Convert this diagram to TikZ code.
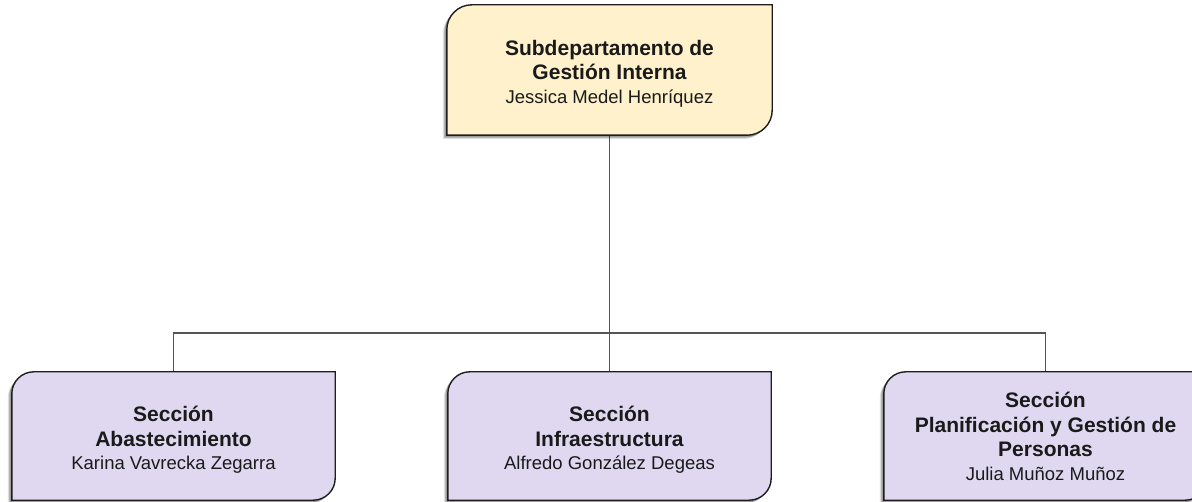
\documentclass[tikz,border=0pt]{standalone}
\usepackage{fontspec}
\setmainfont{Liberation Sans}
\usetikzlibrary{backgrounds}
\definecolor{bossfill}{HTML}{FEF1CC}
\definecolor{secfill}{HTML}{DFD8F0}
\definecolor{edgecol}{HTML}{1E1E1E}
\definecolor{wirecol}{HTML}{555555}
\definecolor{inkcol}{HTML}{1A1A1A}
\newcommand\orgpath[4]{([xshift=#3,yshift=#4]#1.south west) -- ([xshift=#3,yshift=#4-#2]#1.north west) arc[start angle=180,end angle=90,radius=#2] -- ([xshift=#3,yshift=#4]#1.north east) -- ([xshift=#3,yshift=#4+#2]#1.south east) arc[start angle=0,end angle=-90,radius=#2] -- cycle}
\newcommand\orgshape[3]{%
  \fill[black,opacity=0.12] \orgpath{#1}{#2}{-4pt}{-4pt};
  \fill[black,opacity=0.30] \orgpath{#1}{#2}{-2.5pt}{-2.5pt};
  \draw[edgecol,line width=1.4pt,fill=#3] \orgpath{#1}{#2}{0pt}{0pt};}
\newcommand\orgtext[2]{\raisebox{#1}[0pt][0pt]{\setlength\tabcolsep{0pt}\begin{tabular}{c}#2\end{tabular}}}
\newcommand\hd[1]{{\fontsize{21}{24.5}\selectfont\bfseries #1}}
\tikzset{
  x=1pt,y=1pt,
  orgnode/.style={rectangle,inner sep=0pt,text=inkcol,
    font=\fontsize{18.5}{24.5}\selectfont},
  topbox/.style={orgnode,minimum width=325pt,minimum height=130pt},
  secbox/.style={orgnode,minimum width=323pt,minimum height=128pt},
  wire/.style={draw=wirecol,line width=1.4pt}
}
\begin{document}
\begin{tikzpicture}
\clip (0,0) rectangle (1192,501);
\node[topbox] (top) at (609.5,431)
  {\orgtext{-8.5pt}{\hd{Subdepartamento de}\\\hd{Gestión Interna}\\[-1pt]Jessica Medel Henríquez}};
\node[secbox] (s1) at (173.5,65)
  {\orgtext{-9pt}{\hd{Sección}\\\hd{Abastecimiento}\\[-1pt]Karina Vavrecka Zegarra}};
\node[secbox] (s2) at (609.5,65)
  {\orgtext{-9pt}{\hd{Sección}\\\hd{Infraestructura}\\[-1pt]Alfredo González Degeas}};
\node[secbox] (s3) at (1045.5,65)
  {\orgtext{-7.5pt}{\hd{Sección}\\\hd{Planificación y Gestión de}\\\hd{Personas}\\[-1pt]Julia Muñoz Muñoz}};
\coordinate (bus) at (609.5,168);
\begin{scope}[on background layer]
  \fill[white] (0,0) rectangle (1192,501);
  \draw[wire] (top.south) -- (bus);
  \draw[wire] (bus) -| (s1.north);
  \draw[wire] (bus) -| (s3.north);
  \draw[wire] (bus) -- (s2.north);
  \orgshape{top}{25pt}{bossfill}
  \orgshape{s1}{22pt}{secfill}
  \orgshape{s2}{22pt}{secfill}
  \orgshape{s3}{22pt}{secfill}
\end{scope}
\end{tikzpicture}
\end{document}
